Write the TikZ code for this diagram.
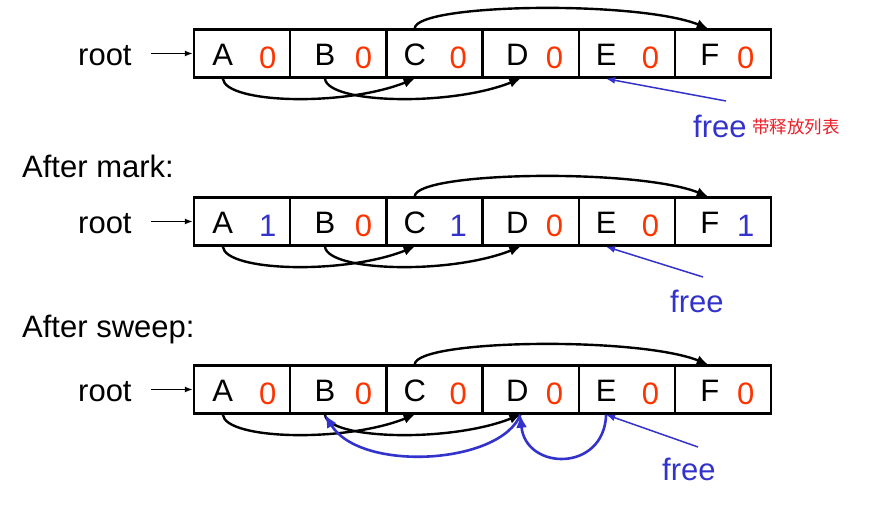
\documentclass[tikz,border=0pt]{standalone}
\usepackage{fontspec}
\setmainfont{Liberation Sans}
\newfontfamily\cjk{Noto Sans CJK SC}
\usetikzlibrary{arrows.meta}
\definecolor{bitred}{RGB}{255,51,0}
\definecolor{freeblue}{RGB}{51,51,204}
\definecolor{notered}{RGB}{235,30,40}

\begin{document}
\begin{tikzpicture}[x=1pt,y=-1pt,
    cell/.style={draw,line width=2.4pt,minimum width=96.2pt,minimum height=48pt,inner sep=0pt},
    txt/.style={font=\fontsize{31}{37}\selectfont,inner sep=0pt,anchor=base},
    ptr/.style={-{Latex[length=11pt,width=10pt]},line width=2.4pt},
    rootptr/.style={-{Latex[length=8pt,width=6pt]},line width=1.5pt},
    fptr/.style={-{Latex[length=9pt,width=7pt]},line width=1.5pt,freeblue},
    bptr/.style={-{Latex[length=13pt,width=11pt]},line width=2.6pt,freeblue}]
            \useasboundingbox (0,0) rectangle (869,519);
            % three copies of the heap
            \foreach \r in {1,2,3} {
                \pgfmathsetmacro\yc{53.5+168*(\r-1)}
                \foreach \n/\dx [count=\i] in {A/30,B/36,C/29.5,D/36,E/28.5,F/36} {
                    \node[cell] (\n\r) at ({194+96.2*(\i-0.5)},\yc) {};
                    \node[txt] (\n\r t) at ([xshift=\dx pt,yshift=-11.5pt]\n\r.west) {\n};
                }
                \node[txt,anchor=base west] (root\r) at ([yshift=-11.5pt]78,\yc) {root};
                \draw[rootptr] ([xshift=19pt]root\r.east |- A\r.west) -- (A\r.west);
                % pointers
                \draw[ptr] (A\r t |- A\r.south) .. controls +(3,25) and +(-70,28) .. (C\r t |- C\r.south);
                \draw[ptr] (B\r t |- B\r.south) .. controls +(3,25) and +(-70,28) .. ([xshift=3pt]D\r t |- D\r.south);
                \draw[ptr] (C\r t |- C\r.north) .. controls +(2,-25) and +(-70,-28) .. ([xshift=-2pt]F\r t |- F\r.north);
            }
            % mark bits
            \foreach \n/\b/\c/\dx in {A/0/bitred/75,B/0/bitred/74.5,C/0/bitred/73,D/0/bitred/73,E/0/bitred/73,F/0/bitred/72}
                \node[txt,\c] (\n1b) at ([xshift=\dx pt,yshift=-14.5pt]\n1.west) {\b};
            \foreach \n/\b/\c/\dx in {A/1/freeblue/75,B/0/bitred/74.5,C/1/freeblue/73,D/0/bitred/73,E/0/bitred/73,F/1/freeblue/72}
                \node[txt,\c] (\n2b) at ([xshift=\dx pt,yshift=-14.5pt]\n2.west) {\b};
            \foreach \n/\b/\c/\dx in {A/0/bitred/75,B/0/bitred/74.5,C/0/bitred/73,D/0/bitred/73,E/0/bitred/73,F/0/bitred/72}
                \node[txt,\c] (\n3b) at ([xshift=\dx pt,yshift=-14.5pt]\n3.west) {\b};
            % headings
            \node[txt,anchor=base west] (mark) at (22,177) {After mark:};
            \node[txt,anchor=base west] (sweep) at (22,337) {After sweep:};
            % free lists
            \node[txt,anchor=base west,freeblue] (free1) at (693,137) {free};
            \node[anchor=base west,inner sep=0pt,notered,font=\cjk\fontsize{17.5}{20}\selectfont] (note) at (752,133) {带释放列表};
            \coordinate (f1) at (726,101);
            \draw[fptr] (f1) -- (E1t |- E1.south);
            \node[txt,anchor=base west,freeblue] (free2) at (670,312) {free};
            \coordinate (f2) at (703,277);
            \draw[fptr] (f2) -- (E2t |- E2.south);
            \node[txt,anchor=base west,freeblue] (free3) at (662,480) {free};
            \coordinate (f3) at (698,447);
            \draw[fptr] (f3) -- (E3t |- E3.south);
            \draw[bptr] (E3t |- E3.south) .. controls +(-2,58) and +(5,56) .. ([xshift=3pt]D3t |- D3.south);
            \draw[bptr] ([xshift=3pt]D3t |- D3.south) .. controls +(-20,50) and +(35,58) .. (B3t |- B3.south);
        \end{tikzpicture}
\end{document}
